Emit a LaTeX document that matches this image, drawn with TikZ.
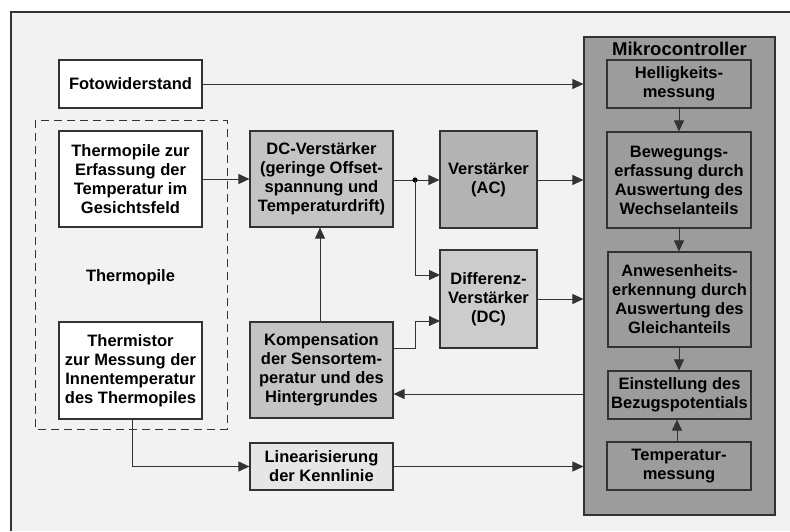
\documentclass[tikz,border=0pt]{standalone}
\usepackage{fontspec}
\setmainfont{Liberation Sans}
\usetikzlibrary{arrows.meta}

\definecolor{bggray}{HTML}{F2F2F2}
\definecolor{edgegray}{HTML}{333333}
\definecolor{dcgray}{HTML}{C4C4C4}
\definecolor{acgray}{HTML}{B3B3B3}
\definecolor{diffgray}{HTML}{CCCCCC}
\definecolor{lingray}{HTML}{E6E6E6}
\definecolor{mcgray}{HTML}{9C9C9C}

\begin{document}
\begin{tikzpicture}[x=1pt,y=-1pt,
    blk/.style={draw=edgegray, line width=1.2pt, align=center, inner sep=0pt,
      font=\bfseries\fontsize{16.5}{19}\selectfont},
    conn/.style={draw=edgegray, line width=1pt},
    arr/.style={conn, -{Triangle[length=11pt,width=10pt]}}]

  % frame
  \useasboundingbox (0,0) rectangle (790,531);
  \fill[white] (0,0) rectangle (790,531);
  \fill[bggray] (11,12) rectangle (790,531);
  \draw[edgegray, line width=1.2pt] (11,531) -- (11,12) -- (790,12);

  % sensors
  \node[blk, fill=white, minimum width=143, minimum height=48] (foto) at (130.5,84) {Fotowiderstand};
  \draw[edgegray, line width=1pt, dash pattern=on 8pt off 5pt] (35,120) rectangle (227,429);
  \node[blk, fill=white, minimum width=143, minimum height=96] (thermo) at (130.5,179)
    {Thermopile zur\\Erfassung der\\Temperatur im\\Gesichtsfeld};
  \node[font=\bfseries\fontsize{16.5}{19}\selectfont] (tplabel) at (130.5,277) {Thermopile};
  \node[blk, fill=white, minimum width=143, minimum height=97] (thermistor) at (130.5,370.5)
    {Thermistor\\zur Messung der\\Innentemperatur\\des Thermopiles};

  % analog part
  \node[blk, fill=dcgray, minimum width=143, minimum height=96] (dcamp) at (321.5,179)
    {DC-Verstärker\\(geringe Offset-\\spannung und\\Temperaturdrift)};
  \node[blk, fill=dcgray, minimum width=143, minimum height=96] (komp) at (321.5,370)
    {Kompensation\\der Sensortem-\\peratur und des\\Hintergrundes};
  \node[blk, fill=lingray, minimum width=143, minimum height=47] (lin) at (321.5,466.5)
    {Linearisierung\\der Kennlinie};
  \node[blk, fill=acgray, minimum width=97, minimum height=97] (ac) at (488.5,179.5)
    {Verstärker\\(AC)};
  \node[blk, fill=diffgray, minimum width=97, minimum height=98] (diff) at (488.5,299)
    {Differenz-\\Verstärker\\(DC)};

  % mikrocontroller
  \node[blk, fill=mcgray, minimum width=191, minimum height=478] (mc) at (679.5,276) {};
  \node[font=\bfseries\fontsize{18.5}{21}\selectfont] (mctitle) at (679.5,49) {Mikrocontroller};
  \node[blk, minimum width=144, minimum height=48] (hell) at (679,84) {Helligkeits-\\messung};
  \node[blk, minimum width=144, minimum height=96] (bew) at (679,180)
    {Bewegungs-\\erfassung durch\\Auswertung des\\Wechselanteils};
  \node[blk, minimum width=143, minimum height=95] (anw) at (679.5,299.5)
    {Anwesenheits-\\erkennung durch\\Auswertung des\\Gleichanteils};
  \node[blk, minimum width=143, minimum height=48] (einst) at (679.5,395)
    {Einstellung des\\Bezugspotentials};
  \node[blk, minimum width=144, minimum height=48] (temp) at (679,466) {Temperatur-\\messung};

  \coordinate (split) at (415,180);
  \coordinate (din1) at (440,275);
  \coordinate (din2) at (440,321);
  \coordinate (kout) at (393,348);
  \coordinate (mout) at (584,394);

  % connections
  \draw[arr] (foto.east) -- (foto.east -| mc.west);
  \draw[arr] (thermo.east) -- (thermo.east -| dcamp.west);
  \draw[arr] (dcamp.east |- split) -- (split -| ac.west);
  \fill[black] (split) circle (2.6pt);
  \draw[arr] (split) |- (din1);
  \draw[arr] (kout) -- ++(22,0) |- (din2);
  \draw[arr] (ac.east |- split) -- (split -| mc.west);
  \draw[arr] (diff.east) -- (diff.east -| mc.west);
  \draw[arr] (mout) -- (mout -| komp.east);
  \draw[arr] (komp.north -| 320,0) -- (dcamp.south -| 320,0);
  \draw[arr] (thermistor.south -| 132,0) |- (lin.west);
  \draw[arr] (lin.east) -- (lin.east -| mc.west);

  \draw[arr] (hell.south) -- (bew.north);
  \draw[arr] (bew.south) -- (bew.south |- anw.north);
  \draw[arr] (anw.south -| bew.south) -- (bew.south |- einst.north);
  \draw[arr] (temp.north -| 677,0) -- (einst.south -| 677,0);
\end{tikzpicture}
\end{document}
